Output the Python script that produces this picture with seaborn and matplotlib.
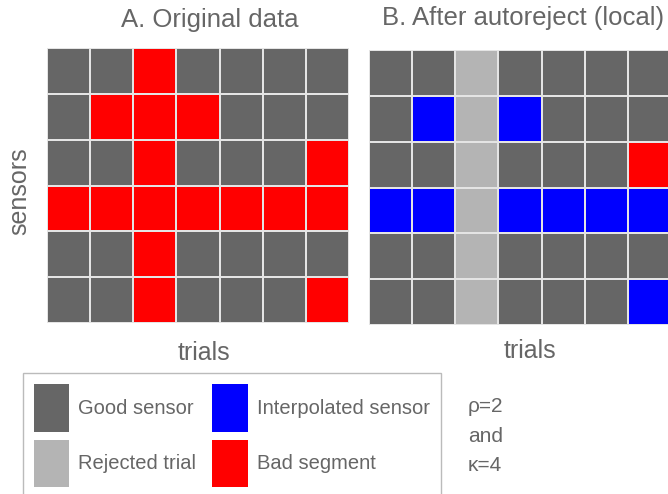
"""
plot.py
=======
Autoreject illustration: original data vs. after autoreject (local).
"""

import numpy as np
import matplotlib
matplotlib.use("Agg")
import matplotlib.pyplot as plt
from matplotlib.colors import ListedColormap
from matplotlib.patches import Patch
import seaborn as sns

# Cell codes: 0 = good, 1 = rejected trial, 2 = interpolated, 3 = bad segment
categories = ["Good sensor", "Rejected trial", "Interpolated sensor", "Bad segment"]
colors     = ["#666666", "#b4b4b4", "#0000ff", "#ff0000"]

original = [
    [0, 0, 3, 0, 0, 0, 0],
    [0, 3, 3, 3, 0, 0, 0],
    [0, 0, 3, 0, 0, 0, 3],
    [3, 3, 3, 3, 3, 3, 3],
    [0, 0, 3, 0, 0, 0, 0],
    [0, 0, 3, 0, 0, 0, 3],
]

after = [
    [0, 0, 1, 0, 0, 0, 0],
    [0, 2, 1, 2, 0, 0, 0],
    [0, 0, 1, 0, 0, 0, 3],
    [2, 2, 1, 2, 2, 2, 2],
    [0, 0, 1, 0, 0, 0, 0],
    [0, 0, 1, 0, 0, 0, 2],
]

titles = ["A. Original data", "B. After autoreject (local)"]
params_text = "\u03c1=2\nand\n\u03ba=4"

W, H = 668, 494
TXT = "#666666"

sns.set_style("white")
plt.rcParams["font.family"] = ["Liberation Sans", "DejaVu Sans"]

fig = plt.figure(figsize=(W / 100, H / 100), dpi=100)
cmap = ListedColormap(colors)


def px(x, y):
    # pixel position (from top-left) -> figure fraction
    return x / W, 1 - y / H


# Heatmaps
ax_a = fig.add_axes([47 / W, 1 - 323 / H, 302 / W, 275 / H])
ax_b = fig.add_axes([369 / W, 1 - 325 / H, 302 / W, 275 / H])

for ax, grid in [(ax_a, original), (ax_b, after)]:
    sns.heatmap(np.array(grid), cmap=cmap, vmin=-0.5, vmax=3.5, cbar=False,
                linewidths=1.2, linecolor="#e4e4e4", ax=ax,
                xticklabels=False, yticklabels=False)
    ax.set_xlabel("")
    ax.set_ylabel("")

# Titles and axis labels
fig.text(*px(210, 26.5), titles[0], ha="center", va="baseline", fontsize=18.5, color=TXT)
fig.text(*px(523, 25), titles[1], ha="center", va="baseline", fontsize=18.5, color=TXT)
fig.text(*px(204, 360), "trials", ha="center", va="baseline", fontsize=18, color=TXT)
fig.text(*px(530, 358), "trials", ha="center", va="baseline", fontsize=18, color=TXT)
fig.text(*px(19, 191), "sensors", ha="center", va="center", rotation=90, fontsize=18, color=TXT)

# Legend (bottom of the frame runs off the figure, as in the original)
handles = [Patch(facecolor=c, edgecolor="none") for c in colors]
leg = fig.legend(handles, categories, ncol=2, loc="upper left",
                 bbox_to_anchor=px(23, 373), borderaxespad=0,
                 fontsize=14.5, frameon=True, fancybox=False,
                 edgecolor="#aaaaaa", handlelength=1.75, handleheight=3.25,
                 handletextpad=0.45, labelspacing=0.4, columnspacing=0.8,
                 borderpad=0.55)
leg.get_frame().set_linewidth(1.0)
for t in leg.get_texts():
    t.set_color(TXT)

fig.text(*px(468, 436), params_text, ha="left", va="center", fontsize=15,
         color=TXT, linespacing=1.72)

fig.savefig("out.png", dpi=100)
plt.close(fig)
